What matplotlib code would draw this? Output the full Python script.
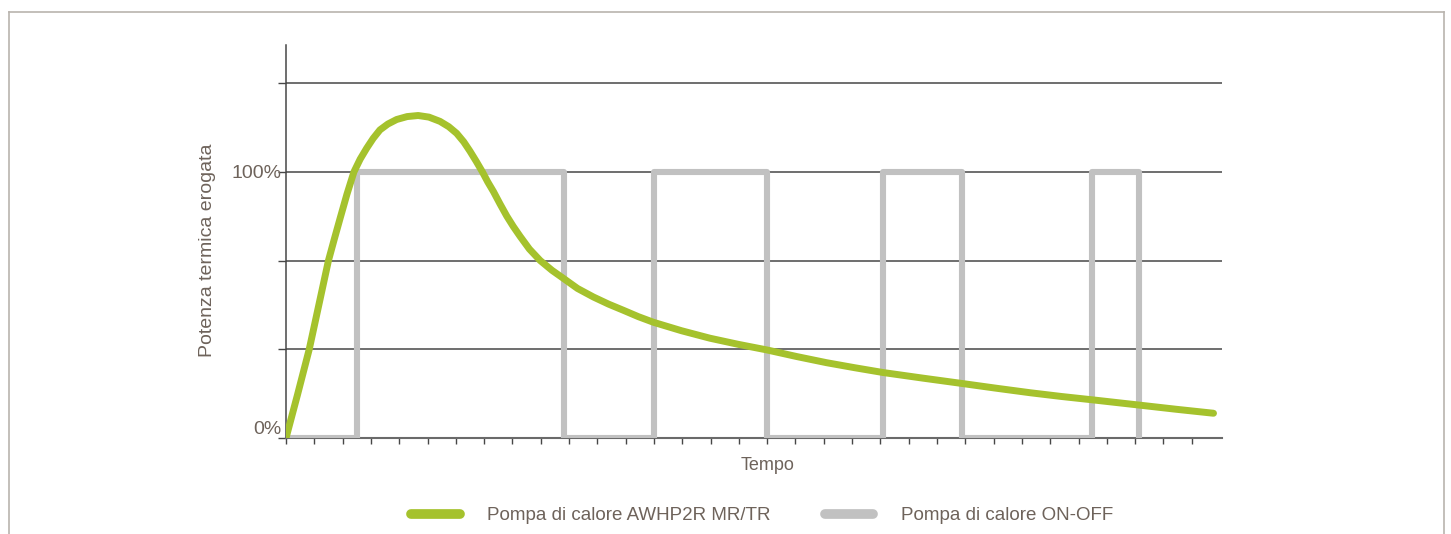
import matplotlib
matplotlib.use("Agg")
from matplotlib import pyplot as plt
from matplotlib.lines import Line2D

# heat pump output (% of nominal) read along the time axis
inverter_t = [0, 0.40, 0.82, 1.16, 1.50, 1.70, 1.91, 2.15, 2.40, 2.62, 2.85, 3.08,
              3.32, 3.60, 3.91, 4.28, 4.67, 5.05, 5.44, 5.75, 6.03, 6.28, 6.50,
              6.72, 6.94, 7.13, 7.33, 7.56, 7.80, 8.03, 8.27, 8.60, 8.98, 9.40,
              9.80, 10.30, 10.86, 11.40, 11.92, 12.45, 12.98, 13.98, 14.98,
              15.98, 16.99, 18.05, 19.1, 20.1, 21.1, 22.5, 23.88, 25.1, 26.3,
              27.4, 28.53, 30.12, 31.45, 32.77]
inverter_pct = [0, 16.0, 33.3, 50.0, 66.7, 74.5, 82.5, 91.5, 100, 104.8, 108.9, 112.6,
                115.8, 118.0, 119.7, 120.8, 121.2, 120.6, 119.0, 117.0, 114.5, 111.3, 107.8,
                104.0, 100, 96.2, 92.6, 88.0, 83.4, 79.5, 75.8, 71.0, 66.7, 63.0,
                60.0, 56.2, 53.0, 50.3, 48.0, 45.6, 43.5, 40.3, 37.5,
                35.2, 33.1, 30.6, 28.3, 26.4, 24.6, 22.5, 20.5, 18.7, 17.0,
                15.6, 14.3, 12.4, 10.8, 9.3]

# on/off unit: switching instants and level held after each one
onoff_t = [0, 2.52, 9.82, 12.99, 16.99, 21.1, 23.88, 28.47, 30.12]
onoff_pct = [0, 100, 0, 100, 0, 100, 0, 100, 0]

ytick_vals = [0, 100 / 3, 200 / 3, 100, 400 / 3]
ytick_labels = ["0%", "", "", "100%", ""]
xtick_vals = list(range(0, 33))

series_names = ["Pompa di calore AWHP2R MR/TR", "Pompa di calore ON-OFF"]

GREEN = "#a5c22d"
GREY = "#c1c1c1"
TEXT = "#6e635b"
DARK = "#474747"

plt.rcParams["font.family"] = ["Liberation Sans", "DejaVu Sans"]

fig = plt.figure(figsize=(14.51, 5.34), dpi=100)
ax = fig.add_axes([286 / 1451, 96 / 534, 936 / 1451, 393 / 534])

ax.plot(onoff_t, onoff_pct, drawstyle="steps-post", color=GREY, lw=4.4,
        solid_joinstyle="round", solid_capstyle="butt", zorder=3)
ax.plot(inverter_t, inverter_pct, color=GREEN, lw=5.0,
        solid_capstyle="round", solid_joinstyle="round", zorder=4)

ax.set_xlim(0, 33.07)
ax.set_ylim(0, 147.7)

ax.set_yticks(ytick_vals)
ax.set_yticklabels(ytick_labels)
ax.set_xticks(xtick_vals)
ax.set_xticklabels([])
ax.tick_params(axis="y", length=6, width=1, color=DARK, labelsize=14,
               labelcolor=TEXT, pad=-3)
ax.tick_params(axis="x", length=4, width=1, color=DARK)
# the 0% label sits just above the axis line
ax.get_yticklabels()[0].set_va("bottom")

for v in ytick_vals[1:]:
    ax.axhline(v, color=DARK, lw=1.1, zorder=1)

for s in ["top", "right"]:
    ax.spines[s].set_visible(False)
ax.spines["left"].set_color(DARK)
ax.spines["left"].set_linewidth(1.1)
ax.spines["bottom"].set_color("#6a6a6a")
ax.spines["bottom"].set_linewidth(1.5)

ax.set_ylabel("Potenza termica erogata", fontsize=14, color=TEXT, va="center")
ax.yaxis.set_label_coords(-0.0844, 0.478)
ax.set_xlabel("Tempo", fontsize=13, color=TEXT, va="center")
ax.xaxis.set_label_coords(0.515, -0.069)

handles = [Line2D([], [], color=GREEN, lw=7, solid_capstyle="round"),
           Line2D([], [], color=GREY, lw=7, solid_capstyle="round")]
fig.legend(handles, series_names, loc="center", bbox_to_anchor=(0.525, 0.034),
           ncol=2, frameon=False, fontsize=13.5, labelcolor=TEXT,
           handlelength=2.6, handletextpad=1.45, columnspacing=2.9)

# thin frame around the panel (open at the bottom)
frame = "#b9b4ae"
y_top = 1 - 12 / 534
fig.add_artist(Line2D([9 / 1451, 1444 / 1451], [y_top, y_top], color=frame, lw=1.2))
fig.add_artist(Line2D([9 / 1451, 9 / 1451], [0, y_top], color=frame, lw=1.2))
fig.add_artist(Line2D([1444 / 1451, 1444 / 1451], [0, y_top], color=frame, lw=1.2))

fig.savefig("out.png", dpi=100)
